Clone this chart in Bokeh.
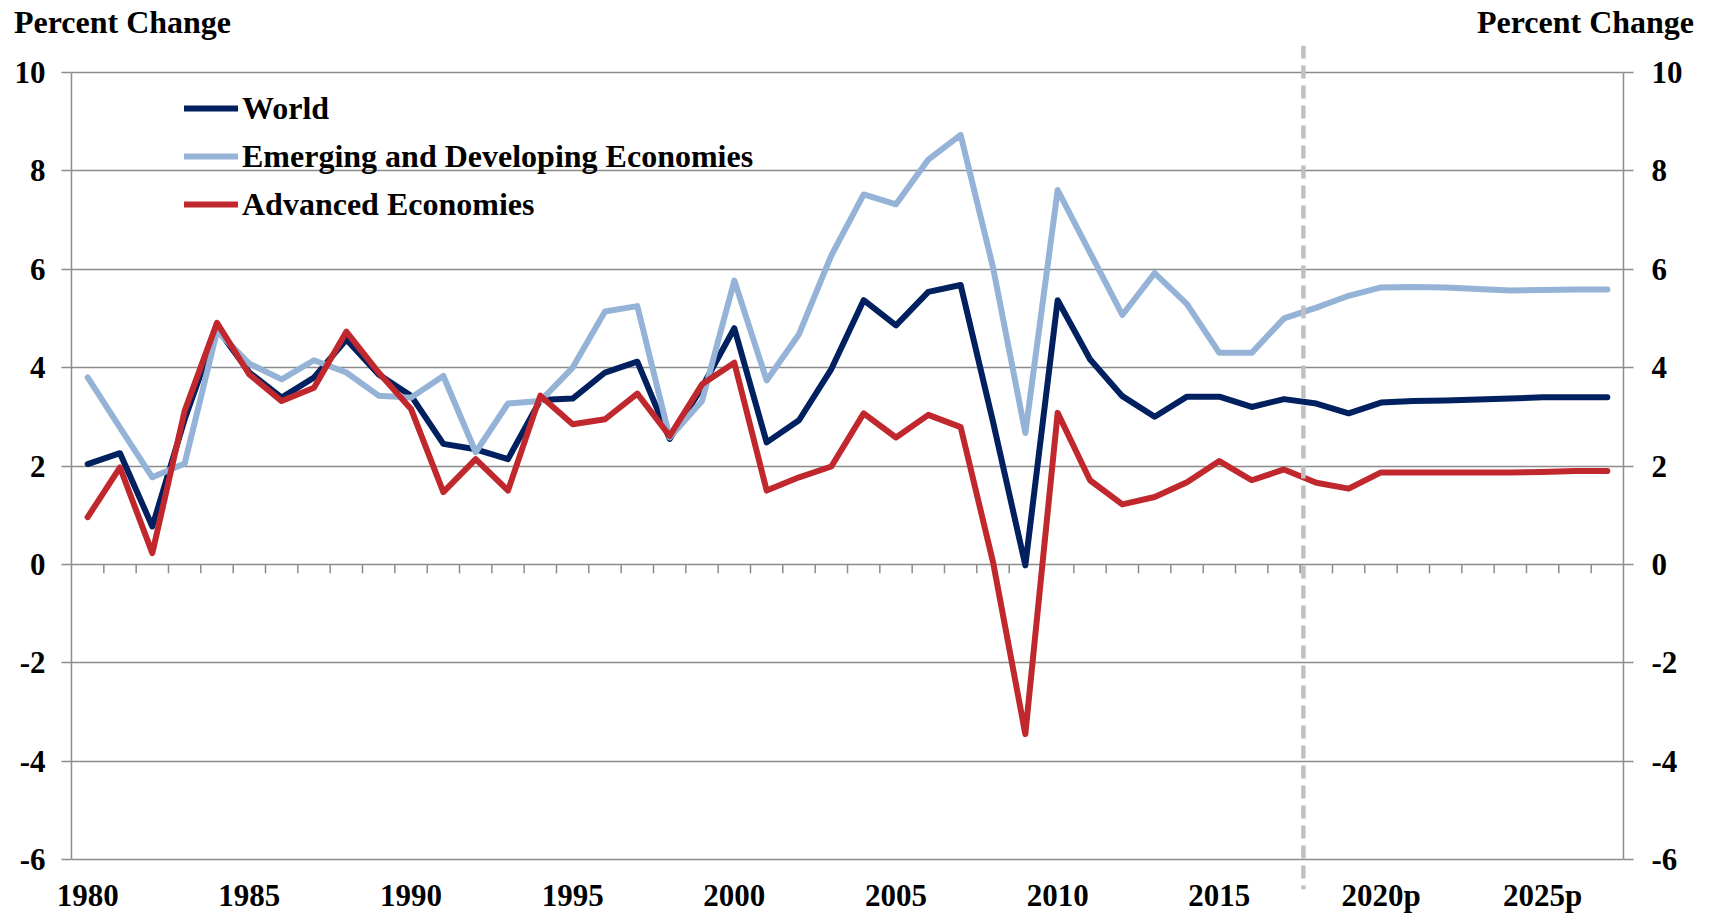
from bokeh.plotting import figure
from bokeh.models import Range1d, FixedTicker, LinearAxis, Legend, LegendItem
from bokeh.embed import file_html
from bokeh.resources import INLINE

# ---------------- data ----------------
years = list(range(1980, 2028))
world = [2.04, 2.26, 0.77, 2.95, 4.80, 3.90, 3.39, 3.80, 4.57, 3.86,
         3.43, 2.45, 2.34, 2.14, 3.34, 3.37, 3.90, 4.12, 2.55, 3.60,
         4.80, 2.48, 2.93, 3.97, 5.37, 4.86, 5.54, 5.68, 2.90, -0.02,
         5.37, 4.17, 3.42, 3.00, 3.41, 3.41, 3.20, 3.36, 3.27, 3.07,
         3.29, 3.32, 3.33, 3.35, 3.37, 3.40, 3.40, 3.40]
emerging = [3.80, 2.78, 1.77, 2.05, 4.74, 4.08, 3.76, 4.15, 3.90, 3.43,
            3.39, 3.83, 2.28, 3.27, 3.32, 4.00, 5.14, 5.25, 2.58, 3.32,
            5.77, 3.74, 4.68, 6.28, 7.52, 7.32, 8.23, 8.73, 6.04, 2.67,
            7.61, 6.34, 5.07, 5.92, 5.29, 4.30, 4.30, 5.00, 5.22, 5.46,
            5.63, 5.64, 5.63, 5.60, 5.57, 5.58, 5.59, 5.59]
advanced = [0.96, 1.97, 0.23, 3.12, 4.91, 3.86, 3.32, 3.59, 4.73, 3.90,
            3.16, 1.47, 2.14, 1.50, 3.43, 2.85, 2.95, 3.47, 2.61, 3.66,
            4.10, 1.50, 1.77, 1.99, 3.07, 2.58, 3.04, 2.79, 0.05, -3.45,
            3.08, 1.71, 1.22, 1.37, 1.67, 2.10, 1.71, 1.93, 1.66, 1.54,
            1.87, 1.87, 1.87, 1.87, 1.87, 1.88, 1.90, 1.90]
series_names = ["World", "Emerging and Developing Economies", "Advanced Economies"]
x_tick_years = [1980, 1985, 1990, 1995, 2000, 2005, 2010, 2015, 2020, 2025]
x_tick_labels = ["1980", "1985", "1990", "1995", "2000", "2005", "2010", "2015",
                 "2020p", "2025p"]
y_ticks = [-6, -4, -2, 0, 2, 4, 6, 8, 10]
y_tick_labels = ["-6", "-4", "-2", "0", "2", "4", "6", "8", "10"]
projection_start = 2017.6
axis_title = "Percent Change"

# ---------------- layout / style ----------------
FONT = "Liberation Serif"
GRID = "#8c8c8c"
colors = ["#002060", "#95B3D7", "#C0282D"]

W, H = 1703, 915
LEFT, RIGHT = 71, 80
AXIS_TOP_PX = 71          # screen y of the "10" line
AXIS_BOTTOM_PX = 859      # screen y of the "-6" line
DASH_TOP_PX, DASH_BOTTOM_PX = 44, 889
TOP, BOTTOM = DASH_TOP_PX, H - DASH_BOTTOM_PX
ppu = (AXIS_BOTTOM_PX - AXIS_TOP_PX) / (y_ticks[-1] - y_ticks[0])
x0, x1 = years[0] - 0.5, years[-1] + 0.5
ppx = (W - LEFT - RIGHT) / (x1 - x0)
y_hi = y_ticks[-1] + (AXIS_TOP_PX - DASH_TOP_PX) / ppu
y_lo = y_ticks[0] - (DASH_BOTTOM_PX - AXIS_BOTTOM_PX) / ppu

p = figure(width=W, height=H, output_backend="svg", toolbar_location=None,
           x_range=Range1d(x0, x1), y_range=Range1d(y_lo, y_hi),
           min_border_left=LEFT, min_border_right=RIGHT, min_border_top=TOP,
           min_border_bottom=BOTTOM)
p.outline_line_color = None
p.background_fill_color = "white"
p.title.visible = False
p.xgrid.visible = False

# bottom axis: labels only (pulled up close to the -6 line)
xa = p.xaxis[0]
xa.ticker = FixedTicker(ticks=x_tick_years)
xa.major_label_overrides = {y: l for y, l in zip(x_tick_years, x_tick_labels)}
xa.axis_line_color = None
xa.major_tick_line_color = None
xa.minor_tick_line_color = None
xa.major_tick_in = 0
xa.major_tick_out = 0
xa.major_label_standoff = -12
xa.major_label_text_font = FONT
xa.major_label_text_font_style = "bold"
xa.major_label_text_font_size = "31px"
xa.major_label_text_color = "black"

# top axis carrying the two "Percent Change" titles
title_centers = [x0 + (122 - LEFT) / ppx, x0 + (1585 - LEFT) / ppx]
top_axis = LinearAxis(ticker=FixedTicker(ticks=title_centers),
                      major_label_overrides={c: axis_title for c in title_centers},
                      axis_line_color=None, major_tick_line_color=None,
                      minor_tick_line_color=None, major_tick_in=0, major_tick_out=0,
                      major_label_standoff=6, major_label_text_font=FONT,
                      major_label_text_font_style="bold",
                      major_label_text_font_size="32px",
                      major_label_text_color="black")
p.add_layout(top_axis, "above")


def style_y(ax, standoff):
    ax.ticker = FixedTicker(ticks=y_ticks)
    ax.bounds = (y_ticks[0], y_ticks[-1])
    ax.major_label_overrides = {t: l for t, l in zip(y_ticks, y_tick_labels)}
    ax.axis_line_color = GRID
    ax.axis_line_width = 1.5
    ax.major_tick_line_color = GRID
    ax.major_tick_line_width = 1.5
    ax.major_tick_in = 0
    ax.major_tick_out = 10
    ax.minor_tick_line_color = None
    ax.major_label_standoff = standoff
    ax.major_label_text_font = FONT
    ax.major_label_text_font_style = "bold"
    ax.major_label_text_font_size = "31px"
    ax.major_label_text_color = "black"


style_y(p.yaxis[0], 16)
right_axis = LinearAxis()
style_y(right_axis, 18)
p.add_layout(right_axis, "right")

p.ygrid.ticker = FixedTicker(ticks=y_ticks)
p.ygrid.grid_line_color = GRID
p.ygrid.grid_line_width = 1.5

# small tick marks below the zero line at category boundaries
tick_len = 9 / ppu
bounds = [y + 0.5 for y in years[:-1]]
p.segment(x0=bounds, x1=bounds, y0=[0] * len(bounds), y1=[-tick_len] * len(bounds),
          line_color=GRID, line_width=1.5)

# series
renderers = []
for vals, col in zip([world, emerging, advanced], colors):
    r = p.line(years, vals, line_color=col, line_width=6,
               line_join="round", line_cap="round")
    renderers.append(r)

# projection divider (dashed, extends beyond the gridded area)
p.segment(x0=[projection_start], x1=[projection_start], y0=[y_hi], y1=[y_lo],
          line_color="#c0c0c0", line_width=4.5, line_dash="13 7")

legend_top_from_frame = (AXIS_TOP_PX - TOP) + 17
legend = Legend(items=[LegendItem(label=n, renderers=[r]) for n, r in zip(series_names, renderers)],
                location=(113, (H - TOP - BOTTOM) - legend_top_from_frame - 136),
                padding=0, margin=0, spacing=8,
                glyph_width=54, glyph_height=40, label_height=40,
                label_standoff=4, border_line_color=None, background_fill_alpha=0,
                label_text_font=FONT, label_text_font_style="bold",
                label_text_font_size="32px", label_text_color="black")
p.add_layout(legend)

open("out.html", "w").write(file_html(p, INLINE))
